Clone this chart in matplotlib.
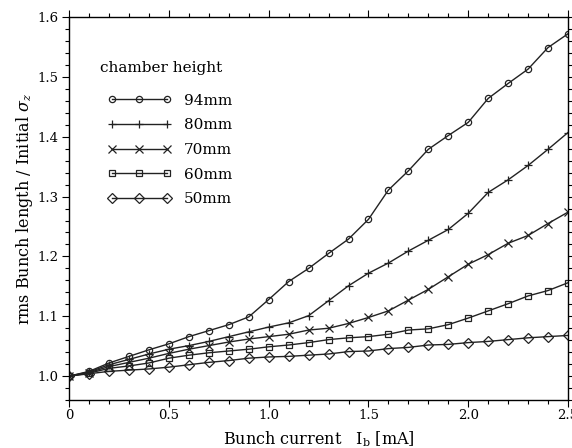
import matplotlib
matplotlib.use("Agg")
import matplotlib.pyplot as plt
from matplotlib.ticker import MultipleLocator

# bunch current [mA]
current = [0.0, 0.1, 0.2, 0.3, 0.4, 0.5, 0.6, 0.7, 0.8, 0.9, 1.0, 1.1, 1.2,
           1.3, 1.4, 1.5, 1.6, 1.7, 1.8, 1.9, 2.0, 2.1, 2.2, 2.3, 2.4, 2.5]

h94 = [1.000, 1.008, 1.022, 1.033, 1.044, 1.054, 1.066, 1.076, 1.086, 1.099, 1.128, 1.158, 1.180,
       1.205, 1.229, 1.262, 1.311, 1.343, 1.379, 1.402, 1.424, 1.464, 1.489, 1.513, 1.549, 1.572]
h80 = [1.000, 1.007, 1.019, 1.028, 1.037, 1.045, 1.051, 1.058, 1.066, 1.074, 1.082, 1.089, 1.101,
       1.126, 1.151, 1.172, 1.189, 1.209, 1.227, 1.245, 1.272, 1.307, 1.328, 1.352, 1.379, 1.407]
h70 = [1.000, 1.006, 1.016, 1.023, 1.030, 1.038, 1.045, 1.051, 1.057, 1.062, 1.066, 1.070, 1.077,
       1.080, 1.088, 1.098, 1.109, 1.127, 1.145, 1.166, 1.187, 1.203, 1.222, 1.235, 1.255, 1.274]
h60 = [1.000, 1.005, 1.013, 1.017, 1.022, 1.030, 1.035, 1.039, 1.042, 1.045, 1.049, 1.052, 1.056,
       1.061, 1.064, 1.066, 1.070, 1.077, 1.079, 1.086, 1.097, 1.109, 1.121, 1.134, 1.143, 1.156]
h50 = [1.000, 1.004, 1.008, 1.010, 1.012, 1.015, 1.019, 1.023, 1.026, 1.030, 1.032, 1.033, 1.035,
       1.037, 1.041, 1.042, 1.046, 1.048, 1.052, 1.053, 1.056, 1.058, 1.061, 1.064, 1.066, 1.068]

labels = ["94mm", "80mm", "70mm", "60mm", "50mm"]
markers = ["o", "+", "x", "s", "D"]
sizes = [4.5, 5.5, 5.5, 4.5, 5]

plt.rcParams["font.family"] = "DejaVu Serif"
plt.rcParams["mathtext.fontset"] = "dejavuserif"

fig = plt.figure(figsize=(5.72, 4.48), dpi=100)
ax = fig.add_axes([0.121, 0.107, 0.872, 0.855])

for ys, lab, m, s in zip([h94, h80, h70, h60, h50], labels, markers, sizes):
    ax.plot(current, ys, color="#222222", lw=1.0, marker=m, ms=s,
            mfc="none", mec="#222222", mew=0.9, label=lab)

ax.set_xlim(0, 2.5)
ax.set_ylim(0.96, 1.6)
ax.xaxis.set_minor_locator(MultipleLocator(0.1))
ax.yaxis.set_minor_locator(MultipleLocator(0.02))
ax.set_xticks([0, 0.5, 1.0, 1.5, 2.0, 2.5])
ax.set_xticklabels(["0", "0.5", "1.0", "1.5", "2.0", "2.5"])
ax.set_yticks([1.0, 1.1, 1.2, 1.3, 1.4, 1.5, 1.6])
ax.set_yticklabels(["1.0", "1.1", "1.2", "1.3", "1.4", "1.5", "1.6"])
ax.tick_params(which="both", direction="out", top=True, right=True,
               labelsize=9.5, width=0.8)
ax.tick_params(axis="x", pad=1.5)
ax.tick_params(axis="y", pad=2.5)
ax.tick_params(which="major", length=5)
ax.tick_params(which="minor", length=3)
for sp in ax.spines.values():
    sp.set_linewidth(1.0)

ax.set_xlabel(r"Bunch current   I$_\mathrm{b}$ [mA]", fontsize=11.5, labelpad=5)
ax.set_ylabel(r"rms Bunch length / Initial $\sigma_z$", fontsize=11.5, labelpad=2)

ax.text(0.062, 0.867, "chamber height", transform=ax.transAxes,
        fontsize=11, ha="left", va="center")
ax.legend(loc="upper left", bbox_to_anchor=(0.076, 0.80), borderaxespad=0,
          borderpad=0, frameon=False, numpoints=3, handlelength=4.2,
          fontsize=11, labelspacing=0.7, handletextpad=0.8)

fig.savefig("out.png", dpi=100)
